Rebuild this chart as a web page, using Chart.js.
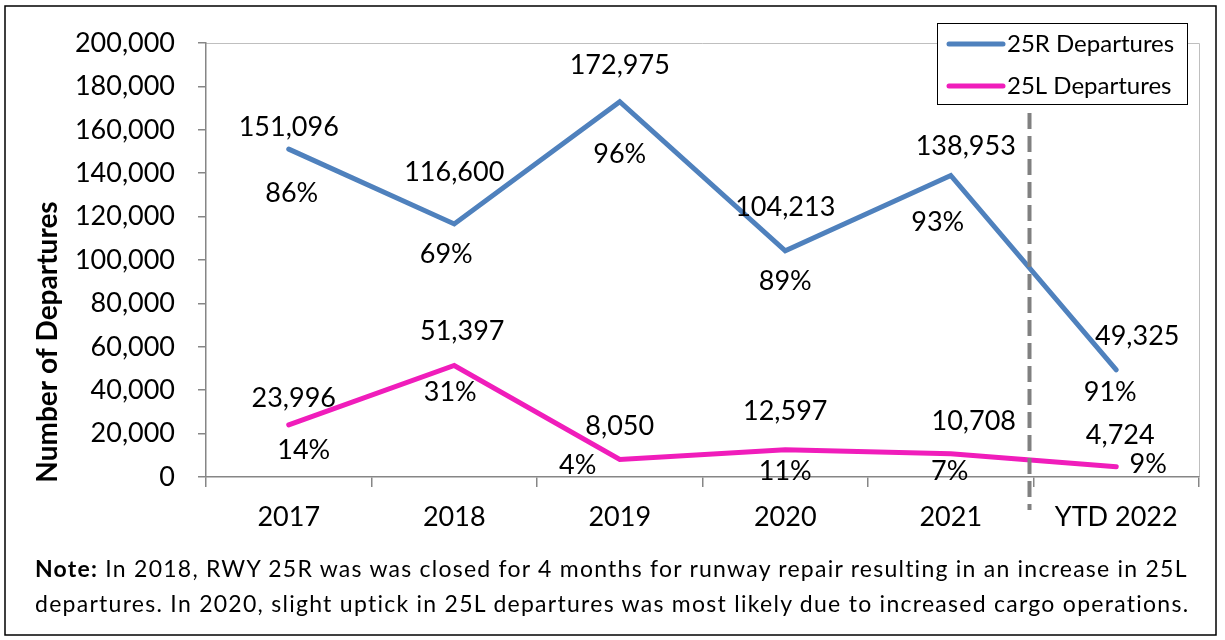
<!DOCTYPE html>
<html>
<head>
<meta charset="utf-8">
<script src="https://cdn.jsdelivr.net/npm/chart.js@4/dist/chart.umd.min.js"></script>
<style>
  html, body { margin: 0; padding: 0; background: #fff; }
  #wrap { position: relative; width: 1225px; height: 640px; }
  #note {
    position: absolute; left: 35px; top: 551px;
    font-family: Lato, sans-serif; font-size: 23px; line-height: 35px; color: #000;
    white-space: nowrap;
  }
  #note span { display: inline-block; }
</style>
</head>
<body>
<div id="wrap">
  <canvas id="chart" width="1225" height="640"></canvas>
  <div id="note"><span class="ln"><b>Note:</b> In 2018, RWY 25R was was closed for 4 months for runway repair resulting in an increase in 25L</span><br><span class="ln">departures. In 2020, slight uptick in 25L departures was most likely due to increased cargo operations.</span></div>
</div>
<script>
// データ
const years = ['2017', '2018', '2019', '2020', '2021', 'YTD 2022'];
const dep25R = [151096, 116600, 172975, 104213, 138953, 49325];
const dep25L = [23996, 51397, 8050, 12597, 10708, 4724];
const pct25R = ['86%', '69%', '96%', '89%', '93%', '91%'];
const pct25L = ['14%', '31%', '4%', '11%', '7%', '9%'];
const yTicks = [0, 20000, 40000, 60000, 80000, 100000, 120000, 140000, 160000, 180000, 200000];

// ラベル位置の微調整（点からのずれ [dx, dy]）
const valOffsetR = [[0, -22], [0, -52], [0, -36], [0, -44], [15, -29], [21, -34]];
const pctOffsetR = [[3, 44], [-8, 30], [0, 53], [0, 30], [-13, 47], [-6, 22]];
const valOffsetL = [[5, -27], [8, -34], [0, -33], [0, -38], [23, -32], [4, -31]];
const pctOffsetL = [[15, 25], [-4, 27], [-42, 6], [0, 22], [-1, 18], [32, -2]];

const BLUE = '#4F81BD';
const PINK = '#F01DBB';
const fmt = (v) => v.toLocaleString('en-US');

// 注記の行幅を元画像に合わせる
const noteWidths = [1153, 1155];
document.querySelectorAll('#note .ln').forEach((el, i) => {
  const w = el.getBoundingClientRect().width;
  const n = el.textContent.length;
  el.style.letterSpacing = ((noteWidths[i] - w) / n).toFixed(2) + 'px';
});

// データラベル・凡例・破線などの描画
const decorPlugin = {
  id: 'decor',
  beforeDraw(chart) {
    const { ctx, chartArea } = chart;
    ctx.save();
    ctx.fillStyle = '#fff';
    ctx.fillRect(0, 0, chart.width, chart.height);
    // 外枠
    ctx.strokeStyle = '#000';
    ctx.lineWidth = 1.5;
    ctx.strokeRect(5, 6, 1211, 629);
    // プロットエリアの枠（上・右）
    ctx.strokeStyle = '#BFBFBF';
    ctx.lineWidth = 1;
    ctx.beginPath();
    ctx.moveTo(chartArea.left, chartArea.top + 0.5);
    ctx.lineTo(chartArea.right + 0.5, chartArea.top + 0.5);
    ctx.lineTo(chartArea.right + 0.5, chartArea.bottom);
    ctx.stroke();
    ctx.restore();
  },
  afterDatasetsDraw(chart) {
    const { ctx, chartArea, scales } = chart;
    ctx.save();

    // 2021 と YTD 2022 の間の破線
    const xs = scales.x;
    const xb = (xs.getPixelForValue(4) + xs.getPixelForValue(5)) / 2 - 4;
    ctx.strokeStyle = '#808080';
    ctx.lineWidth = 4;
    ctx.setLineDash([16, 7]);
    ctx.beginPath();
    ctx.moveTo(xb, chartArea.top + 70);
    ctx.lineTo(xb, chartArea.bottom + 33);
    ctx.stroke();
    ctx.setLineDash([]);

    // 値ラベル
    ctx.fillStyle = '#000';
    ctx.font = '27px Lato, sans-serif';
    ctx.textAlign = 'center';
    ctx.textBaseline = 'middle';
    const sets = [
      [0, dep25R, pct25R, valOffsetR, pctOffsetR],
      [1, dep25L, pct25L, valOffsetL, pctOffsetL]
    ];
    sets.forEach(([di, vals, pcts, vOff, pOff]) => {
      const meta = chart.getDatasetMeta(di);
      meta.data.forEach((pt, i) => {
        ctx.fillText(fmt(vals[i]), pt.x + vOff[i][0], pt.y + vOff[i][1]);
        ctx.fillText(pcts[i], pt.x + pOff[i][0], pt.y + pOff[i][1]);
      });
    });

    // 凡例
    const lx = 937, ly = 23, lw = 250, lh = 81;
    ctx.fillStyle = '#fff';
    ctx.fillRect(lx, ly, lw, lh);
    ctx.strokeStyle = '#000';
    ctx.lineWidth = 1;
    ctx.strokeRect(lx + 0.5, ly + 0.5, lw, lh);
    ctx.lineCap = 'round';
    ctx.lineWidth = 5;
    ctx.font = '24px Lato, sans-serif';
    ctx.textAlign = 'left';
    chart.data.datasets.forEach((ds, i) => {
      const y = ly + 21 + i * 42;
      ctx.strokeStyle = ds.borderColor;
      ctx.beginPath();
      ctx.moveTo(lx + 12, y);
      ctx.lineTo(lx + 66, y);
      ctx.stroke();
      ctx.fillStyle = '#000';
      ctx.fillText(ds.label, lx + 70, y);
    });

    // 縦軸タイトル
    ctx.translate(48, 342);
    ctx.rotate(-Math.PI / 2);
    ctx.font = 'bold 28px Lato, sans-serif';
    ctx.textAlign = 'center';
    ctx.fillText('Number of Departures', 0, 0);
    ctx.restore();
  }
};

new Chart(document.getElementById('chart'), {
  type: 'line',
  data: {
    labels: years,
    datasets: [
      {
        label: '25R Departures',
        data: dep25R,
        borderColor: BLUE,
        borderWidth: 5,
        borderCapStyle: 'round',
        pointRadius: 0,
        tension: 0
      },
      {
        label: '25L Departures',
        data: dep25L,
        borderColor: PINK,
        borderWidth: 5,
        borderCapStyle: 'round',
        pointRadius: 0,
        tension: 0
      }
    ]
  },
  options: {
    responsive: false,
    animation: false,
    layout: { padding: { left: 0, top: 43, right: 26, bottom: 0 } },
    scales: {
      x: {
        offset: true,
        afterFit: (s) => { s.height = 163; },
        grid: { offset: true, drawOnChartArea: false, tickLength: 10, color: '#868686', lineWidth: 1.5 },
        border: { color: '#868686', width: 1.5 },
        ticks: { color: '#000', padding: 14, font: { family: 'Lato', size: 27 } }
      },
      y: {
        min: 0,
        max: 200000,
        afterFit: (s) => { s.width = 206; },
        afterBuildTicks: (s) => { s.ticks = yTicks.map((v) => ({ value: v })); },
        grid: { drawOnChartArea: false, tickLength: 8, color: '#868686', lineWidth: 1.5 },
        border: { color: '#868686', width: 1.5 },
        ticks: {
          color: '#000',
          padding: 23,
          font: { family: 'Lato', size: 27 },
          callback: (v) => fmt(v)
        }
      }
    },
    plugins: {
      legend: { display: false },
      tooltip: { enabled: false }
    }
  },
  plugins: [decorPlugin]
});
</script>
</body>
</html>
